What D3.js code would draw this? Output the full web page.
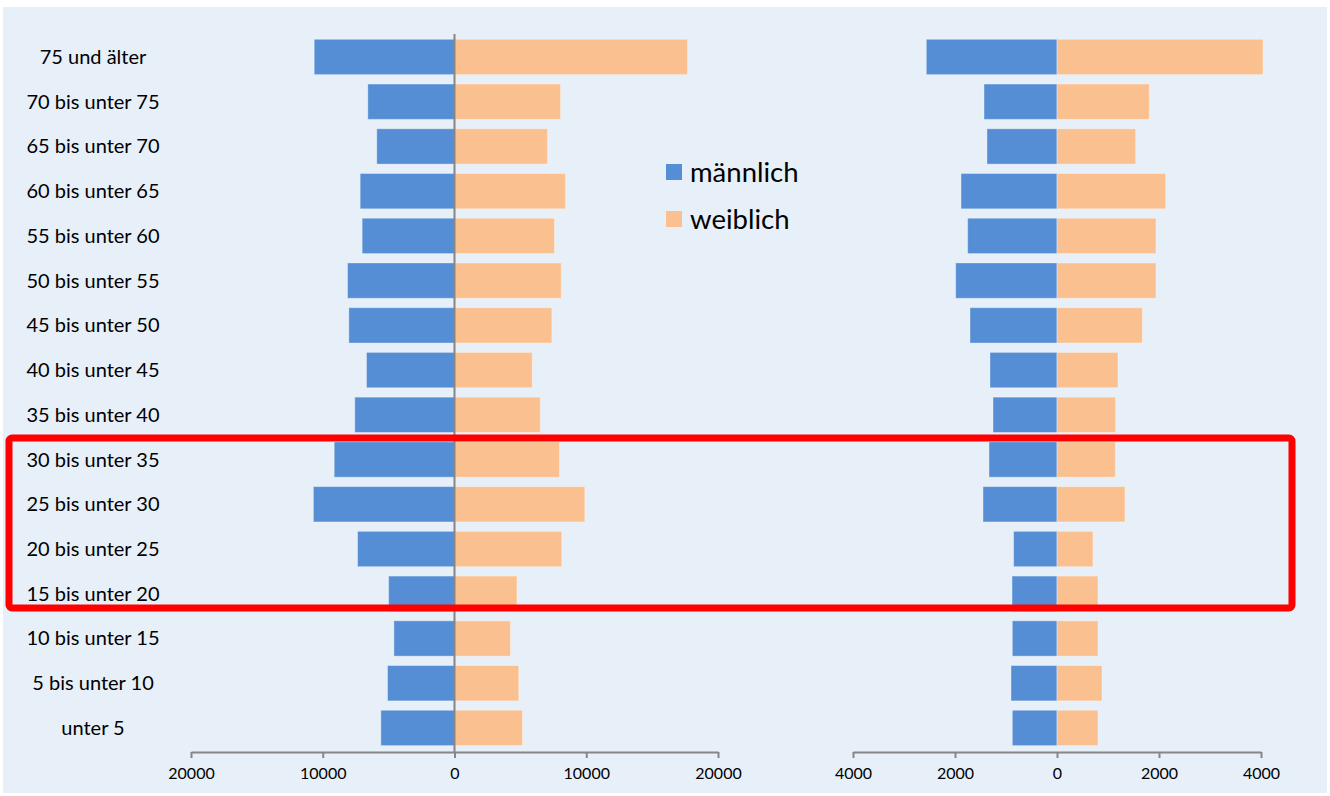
<!DOCTYPE html>
<html>
<head>
<meta charset="utf-8">
<script src="https://cdn.jsdelivr.net/npm/d3@7"></script>
<style>
  html, body { margin: 0; padding: 0; background: #ffffff; }
  svg { display: block; }
  text { font-family: Lato, "Open Sans", sans-serif; fill: #000; }
</style>
</head>
<body>
<svg id="chart" width="1330" height="796"></svg>
<script>
// ---- data ----
const categories = [
  "75 und älter", "70 bis unter 75", "65 bis unter 70", "60 bis unter 65",
  "55 bis unter 60", "50 bis unter 55", "45 bis unter 50", "40 bis unter 45",
  "35 bis unter 40", "30 bis unter 35", "25 bis unter 30", "20 bis unter 25",
  "15 bis unter 20", "10 bis unter 15", "5 bis unter 10", "unter 5"
];
const leftMale   = [10650, 6580, 5900, 7160, 7010, 8120, 8020, 6680, 7570, 9130, 10710, 7360, 5000, 4600, 5085, 5590];
const leftFemale = [17690, 8050, 7060, 8420, 7590, 8100, 7390, 5900, 6510, 7970, 9890, 8140, 4740, 4250, 4880, 5160];
const rightMale   = [2563, 1431, 1373, 1882, 1752, 1987, 1706, 1314, 1255, 1333, 1451, 851, 882, 876, 902, 876];
const rightFemale = [4039, 1810, 1543, 2131, 1941, 1941, 1673, 1196, 1150, 1144, 1333, 706, 804, 804, 882, 804];
const leftTicks  = [-20000, -10000, 0, 10000, 20000];
const rightTicks = [-4000, -2000, 0, 2000, 4000];
const seriesNames = ["männlich", "weiblich"];
const colors = ["#558ED5", "#FAC090"];

// ---- drawing ----
const svg = d3.select("#chart");
svg.append("rect").attr("x", 3).attr("y", 7).attr("width", 1324).attr("height", 786)
  .attr("fill", "#E7EFF9");

const y = d3.scaleBand().domain(categories).range([34.6, 750.3])
  .paddingInner(0.21).paddingOuter(0.105);
const axisY = 752;

function pyramid(male, female, domainMax, r0, r1, ticks, drawZero) {
  const x = d3.scaleLinear().domain([-domainMax, domainMax]).range([r0, r1]);
  const g = svg.append("g");
  g.selectAll("rect.m").data(categories).join("rect")
    .attr("class", "m")
    .attr("x", (d, i) => x(-male[i]))
    .attr("y", d => y(d))
    .attr("width", (d, i) => x(0) - x(-male[i]))
    .attr("height", y.bandwidth())
    .attr("fill", colors[0])
    .attr("stroke", "rgba(255,255,255,0.35)").attr("stroke-width", 1);
  g.selectAll("rect.f").data(categories).join("rect")
    .attr("class", "f")
    .attr("x", x(0))
    .attr("y", d => y(d))
    .attr("width", (d, i) => x(female[i]) - x(0))
    .attr("height", y.bandwidth())
    .attr("fill", colors[1])
    .attr("stroke", "rgba(255,255,255,0.35)").attr("stroke-width", 1);
  if (drawZero) {
    g.append("line").attr("x1", x(0)).attr("x2", x(0)).attr("y1", 34).attr("y2", axisY)
      .attr("stroke", "#868686").attr("stroke-width", 2);
  }
  const ax = g.append("g").attr("transform", `translate(0,${axisY})`)
    .call(d3.axisBottom(x).tickValues(ticks).tickFormat(v => String(Math.abs(v)))
      .tickSizeInner(6).tickSizeOuter(0).tickPadding(10));
  ax.select(".domain").attr("stroke", "#868686").attr("stroke-width", 2);
  ax.selectAll(".tick line").attr("stroke", "#868686").attr("stroke-width", 2);
  ax.selectAll(".tick text").attr("font-size", 16).attr("font-family", "Lato, 'Open Sans', sans-serif").attr("fill", "#000");
}

pyramid(leftMale, leftFemale, 20000, 191, 718, leftTicks, true);
pyramid(rightMale, rightFemale, 4000, 853, 1261, rightTicks, false);

// category labels
svg.append("g").selectAll("text").data(categories).join("text")
  .attr("x", 93)
  .attr("y", d => y(d) + y.bandwidth() / 2)
  .attr("dy", "0.35em")
  .attr("text-anchor", "middle")
  .attr("font-size", 20)
  .text(d => d);

// legend
const legend = svg.append("g");
seriesNames.forEach((name, i) => {
  const ly = 172 + i * 47;
  legend.append("rect").attr("x", 666).attr("y", ly - 8).attr("width", 16).attr("height", 16)
    .attr("fill", colors[i]);
  legend.append("text").attr("x", 690).attr("y", ly).attr("dy", "0.35em")
    .attr("font-size", 27.5).text(name);
});

// red highlight box
svg.append("rect").attr("x", 9).attr("y", 438).attr("width", 1283).attr("height", 170)
  .attr("rx", 3).attr("fill", "none").attr("stroke", "#FF0000").attr("stroke-width", 7);
</script>
</body>
</html>
